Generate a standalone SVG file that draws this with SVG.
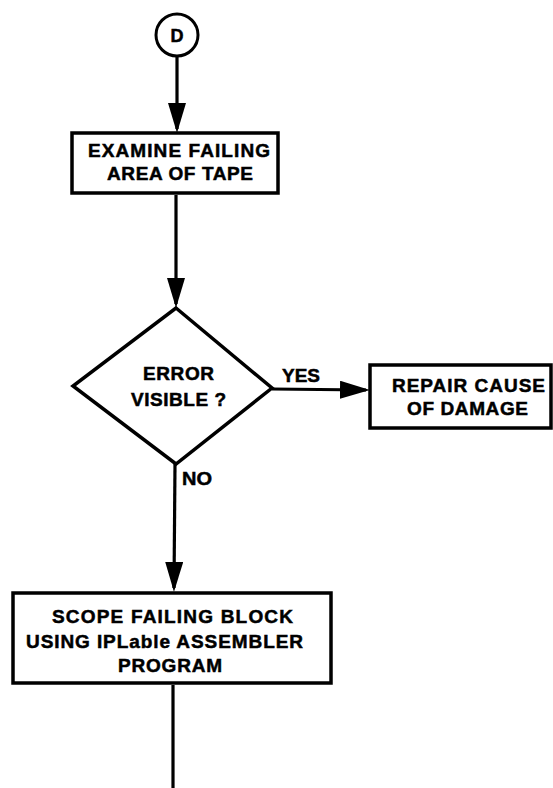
<svg xmlns="http://www.w3.org/2000/svg" width="553" height="788" viewBox="0 0 553 788">
<defs>
<style>
.box{fill:#fff;stroke:#000;stroke-width:3.5}
.conn{fill:none;stroke:#000;stroke-width:3.2}
.t{font-family:"Liberation Sans",Arial,sans-serif;font-weight:bold;font-size:19px;fill:#000;stroke:#000;stroke-width:0.5}
.m{text-anchor:middle}
</style>
<marker id="arr" markerUnits="userSpaceOnUse" markerWidth="31" markerHeight="18" refX="26" refY="9" orient="auto">
<path d="M0,0 L30,9 L0,18 z" fill="#000"/>
</marker>
</defs>
<rect width="553" height="788" fill="#fff"/>
<g id="connectors">
<line class="conn" x1="177" y1="56" x2="177" y2="129" marker-end="url(#arr)"/>
<line class="conn" x1="176" y1="195" x2="176" y2="304" marker-end="url(#arr)"/>
<line class="conn" x1="272" y1="389" x2="366" y2="390" marker-end="url(#arr)"/>
<line class="conn" x1="175" y1="464" x2="174" y2="588" marker-end="url(#arr)"/>
<line class="conn" x1="173" y1="685" x2="173" y2="788"/>
<text class="t" x="282" y="382" textLength="38" lengthAdjust="spacingAndGlyphs">YES</text>
<text class="t" x="182" y="485" textLength="30" lengthAdjust="spacingAndGlyphs">NO</text>
</g>
<g id="start">
<circle cx="177" cy="35" r="21" fill="#fff" stroke="#000" stroke-width="3"/>
<text class="t m" x="177" y="42" style="font-size:18px">D</text>
</g>
<g id="examine">
<rect class="box" x="72" y="133" width="206" height="60"/>
<text class="t" x="88" y="157" textLength="182" lengthAdjust="spacing">EXAMINE FAILING</text>
<text class="t" x="107" y="180" textLength="146" lengthAdjust="spacing">AREA OF TAPE</text>
</g>
<g id="decision">
<polygon points="176,308 272,388 176,464 73,386" fill="#fff" stroke="#000" stroke-width="3.5" stroke-linejoin="miter"/>
<text class="t" x="143" y="380" textLength="71" lengthAdjust="spacing">ERROR</text>
<text class="t" x="131" y="406" textLength="95" lengthAdjust="spacing">VISIBLE ?</text>
</g>
<g id="repair">
<rect class="box" x="370" y="365" width="181" height="63"/>
<text class="t" x="392" y="392" textLength="153" lengthAdjust="spacing">REPAIR CAUSE</text>
<text class="t" x="407" y="415" textLength="121" lengthAdjust="spacing">OF DAMAGE</text>
</g>
<g id="scope">
<rect class="box" x="13" y="593" width="318" height="90"/>
<text class="t" x="52" y="623" textLength="241" lengthAdjust="spacing">SCOPE FAILING BLOCK</text>
<text class="t" x="26" y="648" textLength="277" lengthAdjust="spacing">USING IPLable ASSEMBLER</text>
<text class="t" x="118" y="672" textLength="104" lengthAdjust="spacing">PROGRAM</text>
</g>
</svg>
